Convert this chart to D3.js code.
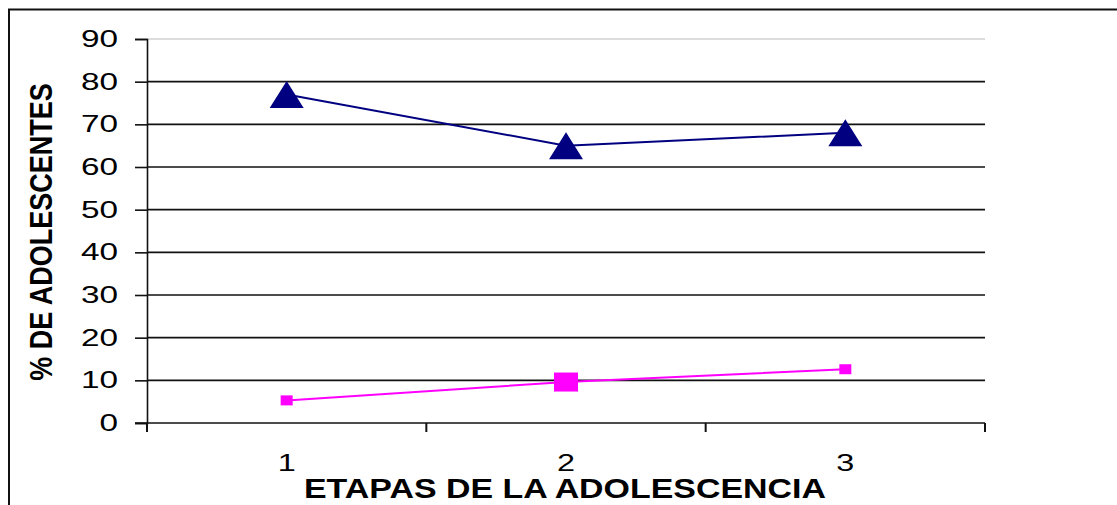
<!DOCTYPE html>
<html>
<head>
<meta charset="utf-8">
<script src="https://cdn.jsdelivr.net/npm/d3@7"></script>
<style>
  html, body { margin: 0; padding: 0; background: #fff; }
  svg { display: block; }
  text { font-family: "Liberation Sans", Arial, sans-serif; fill: #000; }
</style>
</head>
<body>
<svg id="chart" width="1117" height="505"></svg>
<script>
// Stages of adolescence and the share of adolescents in each series (%)
const stages = [1, 2, 3];
const seriesA = [77, 65, 68];
const seriesB = [5.3, 9.6, 12.6];
const yTicks = [0, 10, 20, 30, 40, 50, 60, 70, 80, 90];
const xTitle = "ETAPAS DE LA ADOLESCENCIA";
const yTitle = "% DE ADOLESCENTES";

// text in this chart is drawn slightly widened
const STRETCH_TICK = 1.45;

const svg = d3.select("#chart");

// outer frame of the chart area
svg.append("rect")
  .attr("x", 9).attr("y", 9.5)
  .attr("width", 1130).attr("height", 520)
  .attr("fill", "none").attr("stroke", "#111").attr("stroke-width", 2);

const x = d3.scaleLinear().domain([0.5, 3.5]).range([147, 985]);
const y = d3.scaleLinear().domain([0, 90]).range([423, 39]);

// horizontal gridlines
svg.append("g").selectAll("line")
  .data(yTicks.filter(d => d > 0))
  .join("line")
  .attr("x1", x(0.5)).attr("x2", x(3.5))
  .attr("y1", d => y(d)).attr("y2", d => y(d))
  .attr("stroke", d => d === 90 ? "#bbb" : "#111")
  .attr("stroke-width", d => d === 90 ? 1 : 1.6);

// y axis
const yAxis = d3.axisLeft(y).tickValues(yTicks).tickSize(12).tickPadding(16);
const gy = svg.append("g").attr("transform", `translate(${x(0.5)},0)`).call(yAxis);
gy.select(".domain").attr("stroke", "#111").attr("stroke-width", 1.6);
gy.selectAll(".tick line").attr("stroke", "#111").attr("stroke-width", 1.6);
gy.selectAll(".tick text")
  .attr("x", 0)
  .attr("transform", `translate(-29,0) scale(${STRETCH_TICK},1)`)
  .attr("font-size", 23)
  .style("font-family", '"Liberation Sans", Arial, sans-serif')
  .attr("fill", "#000");

// x axis: tick marks on category boundaries, labels at category centres
const gx = svg.append("g").attr("transform", `translate(0,${y(0)})`);
gx.append("line")
  .attr("x1", x(0.5) - 12).attr("x2", x(3.5))
  .attr("stroke", "#111").attr("stroke-width", 1.6);
gx.selectAll("line.tk")
  .data([0.5, 1.5, 2.5, 3.5])
  .join("line").attr("class", "tk")
  .attr("x1", d => x(d)).attr("x2", d => x(d))
  .attr("y1", 0).attr("y2", 9)
  .attr("stroke", "#111").attr("stroke-width", 2);
gx.selectAll("text")
  .data(stages)
  .join("text")
  .attr("transform", d => `translate(${x(d)},48) scale(1.35,1)`)
  .attr("text-anchor", "middle")
  .attr("font-size", 24)
  .text(d => d);

// series lines
const line = d3.line().x((d, i) => x(stages[i])).y(d => y(d));
svg.append("path").datum(seriesA)
  .attr("d", line).attr("fill", "none")
  .attr("stroke", "#000080").attr("stroke-width", 2);
svg.append("path").datum(seriesB)
  .attr("d", line).attr("fill", "none")
  .attr("stroke", "#FF00FF").attr("stroke-width", 2);

// triangle markers
svg.append("g").selectAll("path")
  .data(seriesA)
  .join("path")
  .attr("d", (d, i) => {
    const cx = x(stages[i]), cy = y(d), w = 34, h = 27;
    return `M${cx},${cy - h / 2}L${cx + w / 2},${cy + h / 2}L${cx - w / 2},${cy + h / 2}Z`;
  })
  .attr("fill", "#000080");

// square markers (the middle one is drawn larger)
const sq = [[12, 10], [24, 19], [12, 10]];
svg.append("g").selectAll("rect")
  .data(seriesB)
  .join("rect")
  .attr("x", (d, i) => x(stages[i]) - sq[i][0] / 2)
  .attr("y", (d, i) => y(d) - sq[i][1] / 2)
  .attr("width", (d, i) => sq[i][0])
  .attr("height", (d, i) => sq[i][1])
  .attr("fill", "#FF00FF");

// axis titles
svg.append("text")
  .attr("x", 565).attr("y", 498)
  .attr("text-anchor", "middle")
  .attr("font-size", 27).attr("font-weight", "bold")
  .attr("textLength", 522).attr("lengthAdjust", "spacingAndGlyphs")
  .text(xTitle);

svg.append("text")
  .attr("transform", "translate(52,232) rotate(-90) scale(1,1.15)")
  .attr("text-anchor", "middle")
  .attr("font-size", 27).attr("font-weight", "bold")
  .text(yTitle);
</script>
</body>
</html>
